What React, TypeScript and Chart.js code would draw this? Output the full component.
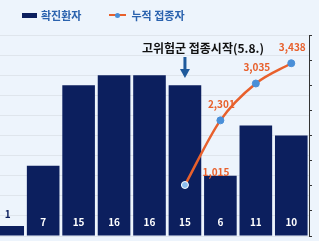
import React, { useEffect, useRef } from "react";
import { Chart, registerables } from "chart.js";

Chart.register(...registerables);

const categories = ["c1", "c2", "c3", "c4", "c5", "c6", "c7", "c8", "c9"];
const confirmed = [1, 7, 15, 16, 16, 15, 6, 11, 10];
const cumulative = [null, null, null, null, null, 1015, 2301, 3035, 3438];
const cumulativeLabels = ["", "", "", "", "", "1,015", "2,301", "3,035", "3,438"];
const legendLabels = ["확진환자", "누적 접종자"];
const annotationText = "고위험군 접종시작(5.8.)";
const annotationIndex = 5;

const NAVY = "#0c1f5e";
const ORANGE = "#e8602c";
const BLUE_TEXT = "#2a62ae";
const FONT = "'Noto Sans CJK KR', 'Noto Sans', sans-serif";

const overlay = {
  id: "overlay",
  afterDatasetsDraw(chart: any) {
    const ctx = chart.ctx;
    const barMeta = chart.getDatasetMeta(0);
    const lineMeta = chart.getDatasetMeta(1);
    const area = chart.chartArea;
    ctx.save();
    ctx.textAlign = "center";
    ctx.textBaseline = "middle";
    ctx.font = `bold 10px ${FONT}`;
    barMeta.data.forEach((bar: any, i: number) => {
      const v = confirmed[i];
      const h = area.bottom - bar.y;
      if (h < 20) {
        ctx.fillStyle = NAVY;
        ctx.fillText(String(v), bar.x, bar.y - 12);
      } else {
        ctx.fillStyle = "#ffffff";
        ctx.fillText(String(v), bar.x, area.bottom - 14);
      }
    });
    ctx.fillStyle = ORANGE;
    ctx.font = `bold 10px ${FONT}`;
    lineMeta.data.forEach((pt: any, i: number) => {
      const lbl = cumulativeLabels[i];
      if (!lbl || cumulative[i] == null) return;
      if (i === 5) {
        ctx.fillText(lbl, pt.x + 31, pt.y - 13);
      } else {
        ctx.fillText(lbl, pt.x + 1, pt.y - 16);
      }
    });
    const ab = barMeta.data[annotationIndex];
    ctx.fillStyle = "#111111";
    ctx.font = `bold 12px ${FONT}`;
    ctx.fillText(annotationText, ab.x + 18, 48);
    ctx.fillStyle = "#1f5a9c";
    ctx.fillRect(ab.x - 1.5, 57, 3, 13);
    ctx.beginPath();
    ctx.moveTo(ab.x - 5, 69);
    ctx.lineTo(ab.x + 5, 69);
    ctx.lineTo(ab.x, 78);
    ctx.closePath();
    ctx.fill();
    ctx.restore();
  },
};

function Legend() {
  const item: React.CSSProperties = {
    display: "flex",
    alignItems: "center",
    fontFamily: FONT,
    fontWeight: 700,
    fontSize: 11,
    color: BLUE_TEXT,
  };
  return (
    <div style={{ position: "absolute", left: 22, top: 7, display: "flex", height: 16, alignItems: "center" }}>
      <div style={item}>
        <span style={{ display: "inline-block", width: 15, height: 5, background: NAVY, marginRight: 4 }} />
        {legendLabels[0]}
      </div>
      <div style={{ ...item, marginLeft: 28 }}>
        <span style={{ position: "relative", display: "inline-block", width: 17, height: 8, marginRight: 5 }}>
          <span style={{ position: "absolute", left: 0, top: 3, width: 17, height: 2, background: ORANGE }} />
          <span style={{ position: "absolute", left: 6, top: 1.5, width: 5, height: 5, borderRadius: 3, background: "#4a8fd8" }} />
        </span>
        {legendLabels[1]}
      </div>
    </div>
  );
}

export default function App() {
  const ref = useRef<HTMLCanvasElement | null>(null);
  useEffect(() => {
    if (!ref.current) return;
    const chart = new Chart(ref.current, {
      type: "bar",
      data: {
        labels: categories,
        datasets: [
          {
            type: "bar",
            data: confirmed,
            backgroundColor: NAVY,
            barPercentage: 0.92,
            categoryPercentage: 1,
            yAxisID: "y",
            order: 2,
          },
          {
            type: "line",
            data: cumulative as any,
            borderColor: ORANGE,
            borderWidth: 2.5,
            pointRadius: 3.5,
            pointBackgroundColor: ["", "", "", "", "", "#8cbcec", "#4a8fd8", "#4a8fd8", "#4a8fd8"],
            pointBorderColor: ["", "", "", "", "", "#ffffff", "#4a8fd8", "#4a8fd8", "#4a8fd8"],
            pointBorderWidth: 1,
            cubicInterpolationMode: "monotone",
            yAxisID: "y2",
            order: 1,
          } as any,
        ],
      },
      options: {
        animation: false,
        responsive: false,
        maintainAspectRatio: false,
        layout: { padding: { left: 0, right: 4, top: 35, bottom: 5 } },
        plugins: { legend: { display: false }, tooltip: { enabled: false } },
        scales: {
          x: { display: false, offset: true },
          y: {
            position: "left",
            min: 0,
            max: 20,
            ticks: { display: false, stepSize: 2 },
            border: { display: false },
            grid: { color: "#dfe5ec", drawTicks: false, lineWidth: 1 },
          },
          y2: {
            position: "right",
            min: 0,
            max: 4000,
            ticks: { display: false, stepSize: 500 },
            border: { display: true, color: "#333333", width: 1 },
            grid: { drawOnChartArea: false, drawTicks: true, tickLength: 3, color: "#333333" },
          },
        },
      },
      plugins: [overlay],
    });
    return () => chart.destroy();
  }, []);
  return (
    <div style={{ position: "fixed", left: 0, top: 0, width: 319, height: 241, overflow: "hidden", background: "#edf4fc" }}>
      <canvas ref={ref} width={331} height={241} style={{ position: "absolute", left: -15, top: 0, width: 331, height: 241 }} />
      <Legend />
    </div>
  );
}
